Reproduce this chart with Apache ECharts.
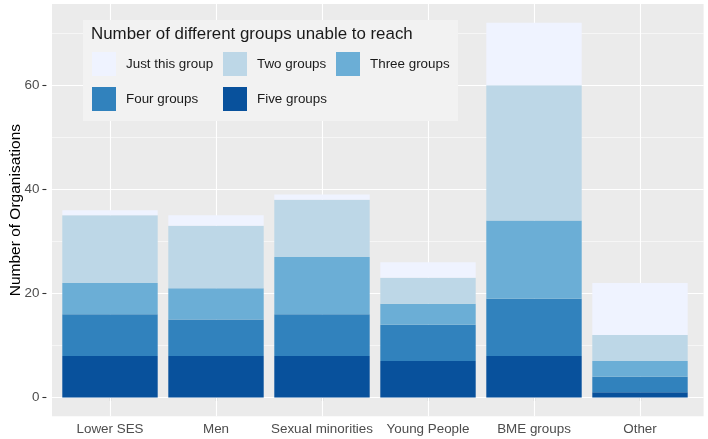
<!DOCTYPE html>
<html>
<head>
<meta charset="utf-8">
<script src="https://cdn.jsdelivr.net/npm/echarts@6/dist/echarts.min.js"></script>
<style>
html,body{margin:0;padding:0;background:#fff;}
#chart{width:708px;height:439px;}
</style>
</head>
<body>
<div id="chart"></div>
<script>
// ---- data ----
const categories = ['Lower SES', 'Men', 'Sexual minorities', 'Young People', 'BME groups', 'Other'];
const seriesNames = ['Just this group', 'Two groups', 'Three groups', 'Four groups', 'Five groups'];
const fiveGroups = [8, 8, 8, 7, 8, 1];
const fourGroups = [8, 7, 8, 7, 11, 3];
const threeGroups = [6, 6, 11, 4, 15, 3];
const twoGroups = [13, 12, 11, 5, 26, 5];
const justThisGroup = [1, 2, 1, 3, 12, 10];
const yTicks = [0, 20, 40, 60];
const yMinor = [10, 30, 50, 70];
const colors = {
  'Just this group': '#EFF3FF',
  'Two groups': '#BDD7E7',
  'Three groups': '#6BAED6',
  'Four groups': '#3182BD',
  'Five groups': '#08519C'
};

// ---- layout ----
const W = 708, H = 439;
const panelL = 46.4, panelR = 703.6, panelT = 4, panelB = 416.3;
const yMin = -3.6, yMax = 75.6;
const panelH = panelB - panelT;
const unitW = (panelR - panelL) / (categories.length - 1 + 1.2);
const barsL = panelL + 0.1 * unitW, barsR = panelR - 0.1 * unitW;
const pxPerUnit = panelH / (yMax - yMin);
const labTop = panelT + (yMax - yTicks[yTicks.length - 1]) * pxPerUnit;
const labH = (yTicks[yTicks.length - 1] - yTicks[0]) * pxPerUnit;

const font = 'Liberation Sans, Arial, sans-serif';
const axisTextColor = '#4D4D4D';

const stackOrder = [
  ['Five groups', fiveGroups],
  ['Four groups', fourGroups],
  ['Three groups', threeGroups],
  ['Two groups', twoGroups],
  ['Just this group', justThisGroup]
];

const barSeries = stackOrder.map(([name, vals]) => ({
  name: name,
  type: 'bar',
  stack: 'total',
  xAxisIndex: 1,
  yAxisIndex: 1,
  data: vals,
  barWidth: '90%',
  itemStyle: { color: colors[name] },
  zlevel: 1,
  z: 3,
  silent: true,
  animation: false
}));

const gridSeries = {
  type: 'line',
  xAxisIndex: 0,
  yAxisIndex: 0,
  data: [[0, null]],
  symbol: 'none',
  silent: true,
  animation: false,
  zlevel: 0,
  markLine: {
    silent: true,
    symbol: 'none',
    animation: false,
    label: { show: false },
    data: yTicks.map(v => ({ yAxis: v, lineStyle: { color: '#FFFFFF', width: 1.1, type: 'solid' } }))
      .concat(yMinor.map(v => ({ yAxis: v, lineStyle: { color: '#FFFFFF', width: 0.55, type: 'solid' } })))
  }
};

// vertical gridlines at category centres, on a hidden copy of the category axis
const vGridSeries = {
  type: 'line',
  xAxisIndex: 3,
  yAxisIndex: 3,
  data: [],
  symbol: 'none',
  silent: true,
  animation: false,
  zlevel: 0,
  markLine: {
    silent: true,
    symbol: 'none',
    animation: false,
    label: { show: false },
    lineStyle: { color: '#FFFFFF', width: 1.1, type: 'solid' },
    data: categories.map(c => ({ xAxis: c }))
  }
};

const legendBase = {
  orient: 'vertical',
  itemWidth: 24,
  itemHeight: 24,
  itemGap: 11,
  icon: 'rect',
  selectedMode: false,
  top: 52,
  padding: 0,
  textStyle: { fontFamily: font, fontSize: 13.4, color: '#1A1A1A', padding: [0, 0, 0, 5] },
  itemStyle: { borderWidth: 0 },
  zlevel: 2,
  z: 20
};

const option = {
  animation: false,
  graphic: [
    {
      type: 'rect',
      zlevel: 2,
      z: 15,
      shape: { x: 83, y: 20, width: 375, height: 101 },
      style: { fill: '#F2F2F2' }
    },
    {
      type: 'text',
      zlevel: 2,
      z: 16,
      left: 91,
      top: 26,
      style: { text: 'Number of different groups unable to reach', fontFamily: font, fontSize: 16.9, fill: '#1A1A1A' }
    }
  ],
  legend: [
    Object.assign({}, legendBase, { left: 92, data: ['Just this group', 'Four groups'] }),
    Object.assign({}, legendBase, { left: 223, data: ['Two groups', 'Five groups'] }),
    Object.assign({}, legendBase, { left: 336, data: ['Three groups'] })
  ],
  grid: [
    { left: panelL, right: W - panelR, top: panelT, bottom: H - panelB, show: true, backgroundColor: '#EBEBEB', borderWidth: 0, containLabel: false },
    { left: barsL, right: W - barsR, top: panelT, bottom: H - panelB, containLabel: false },
    { left: panelL, right: W - panelR, top: labTop, height: labH, containLabel: false },
    { left: barsL, right: W - barsR, top: panelT, bottom: H - panelB, containLabel: false }
  ],
  xAxis: [
    { type: 'value', gridIndex: 0, min: 0, max: 1, show: false },
    {
      type: 'category', gridIndex: 1, data: categories, boundaryGap: true,
      axisLine: { show: false },
      axisTick: { show: true, alignWithLabel: true, length: 4, lineStyle: { color: '#333333', width: 1.1 } },
      axisLabel: { color: axisTextColor, fontFamily: font, fontSize: 13.4, margin: 7, interval: 0 },
      splitLine: { show: false }
    },
    { type: 'value', gridIndex: 2, min: 0, max: 1, show: false },
    { type: 'category', gridIndex: 3, data: categories, boundaryGap: true, show: false }
  ],
  yAxis: [
    {
      type: 'value', gridIndex: 0, min: yMin, max: yMax,
      axisLine: { show: false }, axisTick: { show: false }, axisLabel: { show: false }, splitLine: { show: false },
      name: 'Number of Organisations', nameLocation: 'middle', nameRotate: 90, nameGap: 28,
      nameTextStyle: { fontFamily: font, fontSize: 15.5, color: '#000000' }
    },
    {
      type: 'value', gridIndex: 1, min: yMin, max: yMax, show: false
    },
    {
      type: 'value', gridIndex: 2, min: yTicks[0], max: yTicks[yTicks.length - 1], interval: 20,
      axisLine: { show: false },
      axisTick: { show: true, length: 4, lineStyle: { color: '#333333', width: 1.1 } },
      axisLabel: { color: axisTextColor, fontFamily: font, fontSize: 13.4, margin: 7 },
      splitLine: { show: false }
    },
    { type: 'value', gridIndex: 3, min: yMin, max: yMax, show: false }
  ],
  series: [gridSeries, vGridSeries].concat(barSeries)
};

const chart = echarts.init(document.getElementById('chart'), null, { renderer: 'canvas' });
chart.setOption(option);
</script>
</body>
</html>
